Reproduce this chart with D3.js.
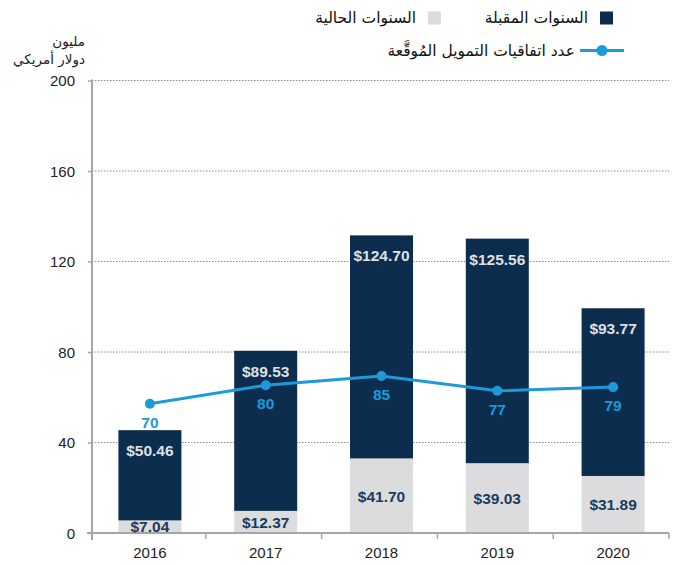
<!DOCTYPE html>
<html>
<head>
<meta charset="utf-8">
<script src="https://cdn.jsdelivr.net/npm/d3@7"></script>
<style>
  html, body { margin: 0; padding: 0; background: #fff; }
  svg { display: block; font-family: "Liberation Sans", Arial, sans-serif; }
  .ar { font-family: "DejaVu Sans", sans-serif; }
</style>
</head>
<body>
<svg id="chart" width="678" height="565"></svg>
<script>
// Financing agreements per year, million US dollars
const years = ["2016", "2017", "2018", "2019", "2020"];
const currentYears = [7.04, 12.37, 41.70, 39.03, 31.89];   // السنوات الحالية
const futureYears = [50.46, 89.53, 124.70, 125.56, 93.77];  // السنوات المقبلة
const agreements = [70, 80, 85, 77, 79];                   // عدد اتفاقيات التمويل
const axisTicks = [0, 40, 80, 120, 160, 200];

const navy = "#0c2d4e";
const lightGrey = "#dcdcde";
const blue = "#1b9bd8";
const axisGrey = "#a6a6a6";

const svg = d3.select("#chart");

const plot = { left: 92, right: 669, top: 80.5, bottom: 533 };

const x = d3.scaleBand().domain(years).range([90, plot.right]).padding(0);
const barW = 63;
const barX = d => x(d) + (x.bandwidth() - barW) / 2 + 2;
const cx = d => barX(d) + barW / 2;

// axis scale (printed ticks) and the scales used for the amounts and the counts
const yAxisScale = d3.scaleLinear().domain([0, 200]).range([plot.bottom, plot.top]);
const yAmount = d3.scaleLinear().domain([0, 253]).range([plot.bottom, plot.top]);
const yCount = d3.scaleLinear().domain([0, 245]).range([plot.bottom, plot.top]);

// dotted gridlines
svg.append("g")
  .selectAll("line")
  .data(axisTicks.filter(t => t > 0))
  .join("line")
  .attr("x1", plot.left).attr("x2", plot.right)
  .attr("y1", d => yAxisScale(d)).attr("y2", d => yAxisScale(d))
  .attr("stroke", "#8c8c8c")
  .attr("stroke-width", 1)
  .attr("stroke-dasharray", "1.5,1.5");

// stacked bars
const rows = years.map((yr, i) => ({ yr, cur: currentYears[i], fut: futureYears[i], n: agreements[i] }));

const bars = svg.append("g");
bars.selectAll("rect.cur")
  .data(rows).join("rect")
  .attr("class", "cur")
  .attr("x", d => barX(d.yr)).attr("width", barW)
  .attr("y", d => yAmount(d.cur))
  .attr("height", d => yAmount(0) - yAmount(d.cur))
  .attr("fill", lightGrey);
bars.selectAll("rect.fut")
  .data(rows).join("rect")
  .attr("class", "fut")
  .attr("x", d => barX(d.yr)).attr("width", barW)
  .attr("y", d => yAmount(d.cur + d.fut))
  .attr("height", d => yAmount(d.cur) - yAmount(d.cur + d.fut))
  .attr("fill", navy);

// axes
const yAxis = d3.axisLeft(yAxisScale).tickValues(axisTicks).tickSize(4).tickPadding(13)
  .tickFormat(d3.format("d"));
const gy = svg.append("g").attr("transform", `translate(${plot.left},0)`).call(yAxis);
gy.select(".domain").remove();
gy.selectAll(".tick line").attr("stroke", axisGrey).attr("stroke-width", 1.5);
gy.selectAll(".tick text").attr("fill", "#222").style("font-size", "15px")
  .attr("dy", "0.35em");
gy.append("line")
  .attr("x1", 0).attr("x2", 0).attr("y1", plot.top - 1).attr("y2", plot.bottom + 7)
  .attr("stroke", axisGrey).attr("stroke-width", 2);

const gx = svg.append("g").attr("transform", `translate(0,${plot.bottom})`);
gx.append("line").attr("x1", 87).attr("x2", plot.right).attr("y1", 0).attr("y2", 0)
  .attr("stroke", axisGrey).attr("stroke-width", 2);
gx.selectAll("line.tk")
  .data(years.slice(1).map(d => x(d)).concat([plot.right]))
  .join("line").attr("class", "tk")
  .attr("x1", d => d).attr("x2", d => d).attr("y1", 0).attr("y2", 6)
  .attr("stroke", axisGrey).attr("stroke-width", 1.5);
gx.selectAll("text")
  .data(years).join("text")
  .attr("x", d => cx(d)).attr("y", 25)
  .attr("text-anchor", "middle")
  .attr("fill", "#222").style("font-size", "15px")
  .text(d => d);

// bar value labels, drawn above the axis line
const money = d3.format(".2f");
const labels = svg.append("g");
labels.selectAll("text.fut")
  .data(rows).join("text").attr("class", "fut")
  .attr("x", d => cx(d.yr)).attr("y", d => yAmount(d.cur + d.fut) + 26)
  .attr("text-anchor", "middle")
  .attr("fill", "#dde0e4").style("font-size", "15.5px").style("font-weight", "bold")
  .text(d => "$" + money(d.fut));
labels.selectAll("text.cur")
  .data(rows).join("text").attr("class", "cur")
  .attr("x", d => cx(d.yr)).attr("y", d => Math.min((yAmount(d.cur) + yAmount(0)) / 2 + 6, yAmount(0) - 1.5))
  .attr("text-anchor", "middle")
  .attr("fill", "#1d3b5c").style("font-size", "15.5px").style("font-weight", "bold")
  .text(d => "$" + money(d.cur));

// agreements line
const line = d3.line().x(d => cx(d.yr)).y(d => yCount(d.n));
svg.append("path").datum(rows)
  .attr("d", line).attr("fill", "none")
  .attr("stroke", blue).attr("stroke-width", 3);
svg.append("g").selectAll("circle")
  .data(rows).join("circle")
  .attr("cx", d => cx(d.yr)).attr("cy", d => yCount(d.n)).attr("r", 5)
  .attr("fill", blue);
svg.append("g").selectAll("text")
  .data(rows).join("text")
  .attr("x", d => cx(d.yr)).attr("y", d => yCount(d.n) + 24)
  .attr("text-anchor", "middle")
  .attr("fill", blue).style("font-size", "15.5px").style("font-weight", "bold")
  .text(d => d.n);

// y axis unit title
const unit = svg.append("g").attr("class", "ar").attr("fill", "#222").style("font-size", "13.5px");
unit.append("text").attr("x", 85).attr("y", 46).attr("text-anchor", "end").text("مليون");
unit.append("text").attr("x", 85).attr("y", 64).attr("text-anchor", "end").text("دولار أمريكي");

// legend
const lg = svg.append("g").attr("class", "ar").attr("fill", "#111").style("font-size", "15.5px");
lg.append("rect").attr("x", 600).attr("y", 11.5).attr("width", 13).attr("height", 13).attr("fill", navy);
lg.append("text").attr("x", 588).attr("y", 23).attr("text-anchor", "end").text("السنوات المقبلة");
lg.append("rect").attr("x", 428).attr("y", 11.5).attr("width", 13).attr("height", 13).attr("fill", lightGrey);
lg.append("text").attr("x", 416).attr("y", 23).attr("text-anchor", "end").text("السنوات الحالية");
lg.append("line").attr("x1", 580).attr("x2", 624).attr("y1", 50.5).attr("y2", 50.5)
  .attr("stroke", blue).attr("stroke-width", 3);
lg.append("circle").attr("cx", 602).attr("cy", 50.5).attr("r", 5.5).attr("fill", blue);
lg.append("text").attr("x", 575).attr("y", 56).attr("text-anchor", "end").text("عدد اتفاقيات التمويل المُوقَّعة");
</script>
</body>
</html>
